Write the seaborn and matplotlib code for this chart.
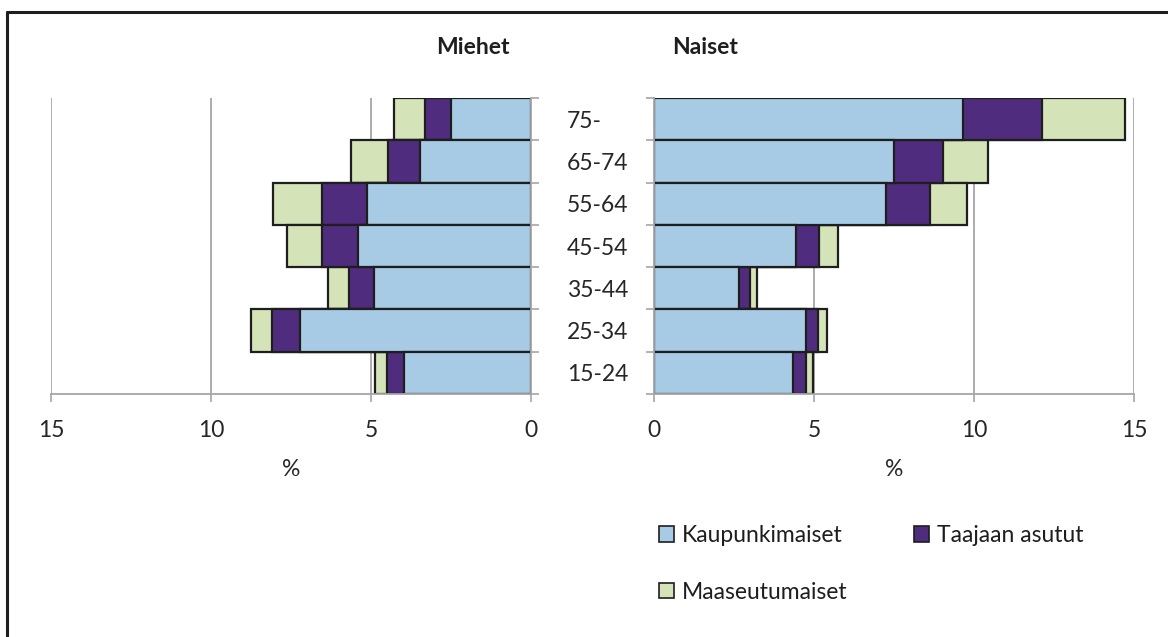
import numpy as np
import pandas as pd
import matplotlib
matplotlib.use("Agg")
import matplotlib.pyplot as plt
import seaborn as sns
from matplotlib.patches import Patch
from matplotlib.lines import Line2D

# age groups, top to bottom
ages = ["75-", "65-74", "55-64", "45-54", "35-44", "25-34", "15-24"]

# share of population (%), by area type
men_urban = [2.51, 3.46, 5.14, 5.41, 4.90, 7.22, 3.98]
men_dense = [0.80, 1.00, 1.38, 1.12, 0.80, 0.86, 0.53]
men_rural = [0.98, 1.17, 1.54, 1.08, 0.64, 0.66, 0.36]

women_urban = [9.65, 7.51, 7.24, 4.44, 2.67, 4.76, 4.34]
women_dense = [2.46, 1.52, 1.37, 0.73, 0.34, 0.38, 0.42]
women_rural = [2.62, 1.40, 1.17, 0.59, 0.22, 0.26, 0.22]

series = ["Kaupunkimaiset", "Taajaan asutut", "Maaseutumaiset"]
colors = {"Kaupunkimaiset": "#A7CBE4", "Taajaan asutut": "#4F2C7E", "Maaseutumaiset": "#D4E3B8"}

EDGE = "#1e1e1e"
GRID = "#A6A6A6"
FS = 16.5

sns.set_theme(style="white")
plt.rcParams["font.family"] = ["Lato", "DejaVu Sans"]
plt.rcParams["text.color"] = "#1e1e1e"


def stacked(ax, urban, dense, rural):
    df = pd.DataFrame({"age": ages, "urban": urban, "dense": dense, "rural": rural})
    df["c1"] = df["urban"]
    df["c2"] = df["c1"] + df["dense"]
    df["c3"] = df["c2"] + df["rural"]
    # draw from the longest cumulative bar down so each segment stays visible
    for col, name in [("c3", "Maaseutumaiset"), ("c2", "Taajaan asutut"), ("c1", "Kaupunkimaiset")]:
        sns.barplot(data=df, x=col, y="age", order=ages, orient="h", ax=ax,
                    color=colors[name], width=1.0, edgecolor=EDGE, linewidth=1.6,
                    saturation=1)
    ax.set_ylim(len(ages) - 0.5, -0.5)
    ax.set_xticks([0, 5, 10, 15])
    ax.set_xticklabels(["0", "5", "10", "15"], fontsize=FS)
    ax.xaxis.grid(True, color=GRID, linewidth=1.3)
    ax.set_axisbelow(True)
    ax.set_xlabel("%", fontsize=FS, labelpad=13)
    ax.set_ylabel("")
    ax.tick_params(axis="x", length=6, width=1.2, color=GRID, pad=13, bottom=True)
    ax.spines["top"].set_visible(False)
    for s in ax.spines.values():
        s.set_color(GRID)
        s.set_linewidth(1.3)
    ax.set_yticks(np.arange(len(ages)))
    ax.set_yticks(np.arange(len(ages) + 1) - 0.5, minor=True)


fig = plt.figure(figsize=(11.68, 6.37), dpi=100)
W, H = 1168, 637
axl = fig.add_axes([51 / W, 1 - 394 / H, 480 / W, 296 / H])
axr = fig.add_axes([654 / W, 1 - 394 / H, 480 / W, 296 / H])

stacked(axl, men_urban, men_dense, men_rural)
stacked(axr, women_urban, women_dense, women_rural)

# men: mirrored axis, age labels in the middle
axl.set_xlim(15, 0)
axl.spines["left"].set_visible(False)
axl.yaxis.tick_right()
axl.set_yticklabels(ages, fontsize=FS)
axl.tick_params(axis="y", which="major", length=0, pad=26)
axl.tick_params(axis="y", which="minor", right=True, left=False, length=6, width=1.2, color=GRID)

axr.set_xlim(0, 15)
axr.spines["right"].set_visible(False)
axr.set_yticklabels([])
axr.tick_params(axis="y", which="major", length=0)
axr.tick_params(axis="y", which="minor", left=True, length=6, width=1.2, color=GRID)

fig.text(473 / W, 1 - 48 / H, "Miehet", ha="center", va="center", fontsize=FS, fontweight="bold")
fig.text(705 / W, 1 - 48 / H, "Naiset", ha="center", va="center", fontsize=FS, fontweight="bold")

handles = [Patch(facecolor=colors[s], edgecolor=EDGE, linewidth=1.2) for s in series]
order = [0, 2, 1]
fig.legend([handles[i] for i in order], [series[i] for i in order], ncol=2,
           loc="upper left", bbox_to_anchor=(659 / W, 1 - 525 / H), frameon=False,
           fontsize=FS, handlelength=0.65, handleheight=0.65, handletextpad=0.35,
           columnspacing=2.9, labelspacing=1.55, borderaxespad=0, borderpad=0)

# outer frame (left and top edges)
fig.add_artist(Line2D([7 / W, 7 / W], [0, 1 - 12 / H], color="#1e1e1e", linewidth=2.2))
fig.add_artist(Line2D([7 / W, 1], [1 - 12 / H, 1 - 12 / H], color="#1e1e1e", linewidth=2.2))

fig.savefig("out.png", dpi=100)
